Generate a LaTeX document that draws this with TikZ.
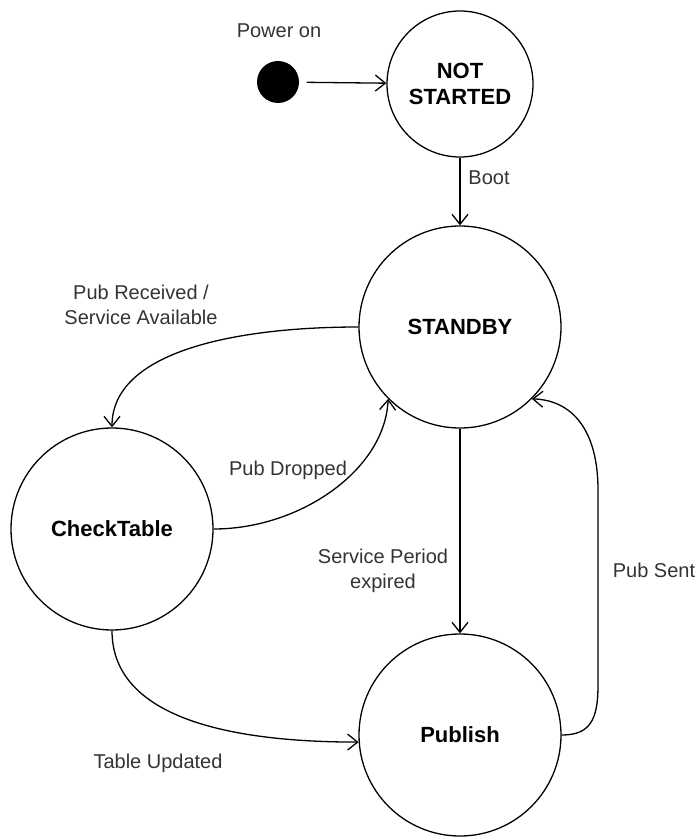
\documentclass[tikz,border=0pt]{standalone}
\usepackage{fontspec}
\setmainfont{Liberation Sans}
\usetikzlibrary{arrows.meta}

\begin{document}
\begin{tikzpicture}[x=0.5pt, y=-0.5pt, % one unit is one pixel of the sketch
    line width=0.65pt,
    state/.style={circle, draw, inner sep=0pt, minimum size=101pt, align=center,
      font=\bfseries\fontsize{11}{13}\selectfont},
    lbl/.style={align=center, text=black!80, font=\fontsize{10}{12.5}\selectfont},
    trans/.style={-{Straight Barb[length=5pt, width=8pt]}}
%    ,trans/.style={->}
   ]
    \useasboundingbox (0,0) rectangle (696,839);

    % states
    \node[circle, fill, inner sep=0pt, minimum size=21pt] (init) at (278,82) {};
    \node[state, minimum size=73pt] (notstarted) at (460,84) {NOT\\STARTED};
    \node[state] (standby) at (460,327) {STANDBY};
    \node[state] (checktable) at (112,529) {CheckTable};
    \node[state] (publish) at (460,735) {Publish};

    % labels
    \node[lbl] (poweron) at (279,31) {Power on};
    \node[lbl] (boot) at (489,178) {Boot};
    \node[lbl] (pubrecv) at (141,305) {Pub Received /\\Service Available};
    \node[lbl] (pubdrop) at (288,470) {Pub Dropped};
    \node[lbl] (period) at (383,571) {Service Period\\expired};
    \node[lbl] (pubsent) at (654,570) {Pub Sent};
    \node[lbl] (tableupd) at (158,763) {Table Updated};

    % transitions
    \draw[trans, shorten <=3.5pt] (init) -- (notstarted);
    \draw[trans] (notstarted.south) -- (standby.north);
    \draw[trans] (standby.west) .. controls (240,327) and (112,350) .. (checktable.north);
    \draw[trans] (checktable.east) .. controls (300,529) and (385,470) .. (standby.south west);
    \draw[trans] (standby.south) -- (publish.north);
    \draw[trans] (publish.east) .. controls (590,735) and (598,720) .. (598,685)
      -- (598,490) .. controls (598,430) and (572,400) .. (standby.south east);
    \draw[trans] (checktable.south) .. controls (112,710) and (210,742) .. (publish.184);
\end{tikzpicture}
\end{document}
